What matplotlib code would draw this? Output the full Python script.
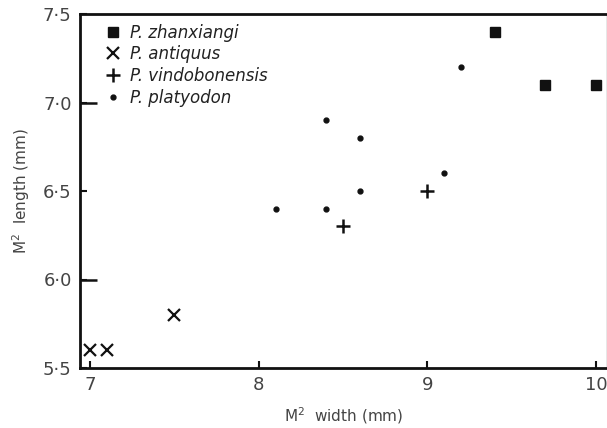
import matplotlib
matplotlib.use("Agg")
import matplotlib.pyplot as plt

# Data
zhan_x = [9.4, 9.7, 10.0]
zhan_y = [7.4, 7.1, 7.1]
anti_x = [7.0, 7.1, 7.5]
anti_y = [5.6, 5.6, 5.8]
vind_x = [8.5, 9.0]
vind_y = [6.3, 6.5]
plat_x = [8.1, 8.4, 8.4, 8.6, 8.6, 9.1, 9.2]
plat_y = [6.4, 6.4, 6.9, 6.8, 6.5, 6.6, 7.2]

xticks = [7, 8, 9, 10]
xticklabels = ["7", "8", "9", "10"]
yticks = [5.5, 6.0, 6.5, 7.0, 7.5]
yticklabels = ["5·5", "6·0", "6·5", "7·0", "7·5"]

plt.rcParams['font.family'] = ['DejaVu Sans']
fig = plt.figure(figsize=(6.07, 4.28), dpi=100)
ax = fig.add_axes([80/607, 60/428, 527/607, 354/428])

ink = '#111111'
ax.plot(zhan_x, zhan_y, 's', color=ink, ms=7.5, ls='none', label='P. zhanxiangi')
ax.plot(anti_x, anti_y, 'x', color=ink, ms=9, mew=1.6, ls='none', label='P. antiquus')
ax.plot(vind_x, vind_y, '+', color=ink, ms=10, mew=1.8, ls='none', label='P. vindobonensis')
ax.plot(plat_x, plat_y, 'o', color=ink, ms=3.5, ls='none', label='P. platyodon')

ax.set_xlim(6.94, 10.065)
ax.set_ylim(5.5, 7.5)
ax.set_xticks(xticks)
ax.set_xticklabels(xticklabels)
ax.set_yticks(yticks)
ax.set_yticklabels(yticklabels)
ax.yaxis.remove_overlapping_locs = False
ax.set_yticks([6.0, 7.0], minor=True)
ax.tick_params(axis='y', which='minor', direction='in', length=12, width=1.8, color=ink)
ax.tick_params(axis='both', which='major', direction='in', length=5, width=1.5,
               labelsize=13, colors=ink, pad=6)
for lbl in ax.get_xticklabels() + ax.get_yticklabels():
    lbl.set_color('#444444')

for s in ['left', 'bottom', 'top']:
    ax.spines[s].set_linewidth(2)
    ax.spines[s].set_color(ink)
ax.spines['right'].set_linewidth(1.0)
ax.spines['right'].set_color('#888888')

ax.set_xlabel("M$^2$  width (mm)", fontsize=11, color='#444444', labelpad=8)
ax.set_ylabel("M$^2$  length (mm)", fontsize=11, color='#444444', labelpad=8)

leg = ax.legend(loc='upper left', frameon=False, fontsize=12, handletextpad=0.4,
                labelspacing=0.22, borderaxespad=0.6, handlelength=1.2,
                bbox_to_anchor=(0.012, 1.02))
for t in leg.get_texts():
    t.set_fontstyle('italic')
    t.set_color('#222222')

fig.savefig("out.png", dpi=100)
